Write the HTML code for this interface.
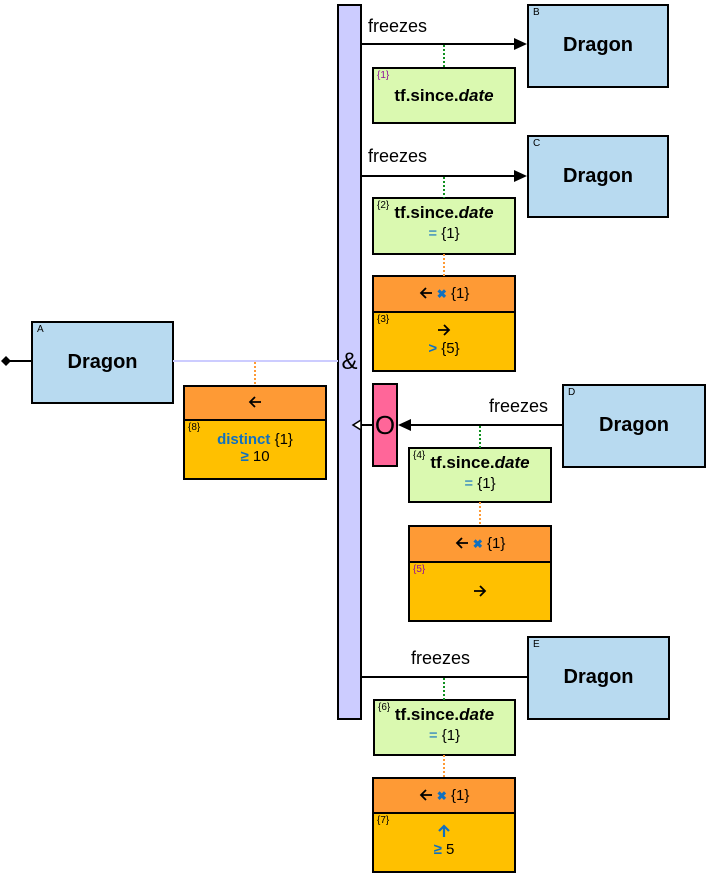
<!DOCTYPE html>
<html><head><meta charset="utf-8"><style>
body{margin:0;width:706px;height:875px;position:relative;background:#fff;overflow:hidden;font-family:"Liberation Sans",Arial,sans-serif}
.b{position:absolute;box-sizing:border-box;border:2px solid #000}
.ent{background:#b8daf0;text-align:center;font-weight:bold;font-size:20px}
.ent span.t{position:absolute;left:0;right:0;top:28px}
.tag{position:absolute;left:4px;top:1px;font-size:10px;font-weight:normal;color:#000}
.g{background:#daf9b0;text-align:center}
.g .m{font-weight:bold;font-size:17px;margin-top:4px}
.g .s{font-size:15px;margin-top:2px}
.o{background:#fe9a35;text-align:center;font-size:15px}
.y{background:#ffc000;text-align:center;font-size:15px}
.num{position:absolute;left:3px;top:1px;font-size:10px;color:#000}
.pur{color:#90109a}
.bl{color:#1070c0}
.ic{display:inline-block;vertical-align:-2px}
.fz{position:absolute;font-size:18px}
</style></head><body>
<div class="b" style="left:337px;top:4px;width:25px;height:716px;background:#ccccff"></div>
<div style="position:absolute;left:338px;top:348px;width:23px;text-align:center;font-size:24px">&amp;</div>
<svg width="706" height="875" style="position:absolute;left:0;top:0;z-index:1">
<line x1="173" y1="361" x2="338" y2="361" stroke="#ccccff" stroke-width="2"/>
<line x1="10" y1="361" x2="31" y2="361" stroke="#000" stroke-width="2"/>
<polygon points="1,361 6,356 11,361 6,366" fill="#000"/>
<line x1="255" y1="362" x2="255" y2="386" stroke="#fe9a35" stroke-width="2" stroke-dasharray="2,2"/>
<line x1="361" y1="44" x2="515" y2="44" stroke="#000" stroke-width="2"/>
<polygon points="527,44 514,38 514,50" fill="#000"/>
<line x1="444" y1="45" x2="444" y2="68" stroke="#109020" stroke-width="2" stroke-dasharray="2,2"/>
<line x1="361" y1="176" x2="515" y2="176" stroke="#000" stroke-width="2"/>
<polygon points="527,176 514,170 514,182" fill="#000"/>
<line x1="444" y1="177" x2="444" y2="198" stroke="#109020" stroke-width="2" stroke-dasharray="2,2"/>
<line x1="444" y1="254" x2="444" y2="276" stroke="#fe9a35" stroke-width="2" stroke-dasharray="2,2"/>
<line x1="410" y1="425" x2="563" y2="425" stroke="#000" stroke-width="2"/>
<polygon points="398,425 411,419 411,431" fill="#000"/>
<line x1="361" y1="425" x2="372" y2="425" stroke="#000" stroke-width="2"/>
<polygon points="353,425 361,420 361,430" fill="#fff" stroke="#000" stroke-width="1.5"/>
<line x1="480" y1="426" x2="480" y2="448" stroke="#109020" stroke-width="2" stroke-dasharray="2,2"/>
<line x1="480" y1="502" x2="480" y2="526" stroke="#fe9a35" stroke-width="2" stroke-dasharray="2,2"/>
<line x1="361" y1="677" x2="527" y2="677" stroke="#000" stroke-width="2"/>
<line x1="444" y1="678" x2="444" y2="700" stroke="#109020" stroke-width="2" stroke-dasharray="2,2"/>
<line x1="444" y1="755" x2="444" y2="778" stroke="#fe9a35" stroke-width="2" stroke-dasharray="2,2"/>
</svg>

<div class="b ent" style="left:31px;top:321px;width:143px;height:83px"><span class="tag">A</span><span class="t">Dragon</span></div>
<div class="b ent" style="left:527px;top:4px;width:142px;height:84px"><span class="tag">B</span><span class="t">Dragon</span></div>
<div class="b ent" style="left:527px;top:135px;width:142px;height:83px"><span class="tag">C</span><span class="t">Dragon</span></div>
<div class="b ent" style="left:562px;top:384px;width:144px;height:84px"><span class="tag">D</span><span class="t">Dragon</span></div>
<div class="b ent" style="left:527px;top:636px;width:143px;height:84px"><span class="tag">E</span><span class="t">Dragon</span></div>

<div class="fz" style="left:368px;top:16px">freezes</div>
<div class="fz" style="left:368px;top:146px">freezes</div>
<div class="fz" style="left:489px;top:396px">freezes</div>
<div class="fz" style="left:411px;top:648px">freezes</div>

<div class="b o" style="left:183px;top:385px;width:144px;height:36px;line-height:32px"><svg class="ic" width="14" height="14"><path d="M13 7H2M7 2L2 7L7 12" fill="none" stroke="#000" stroke-width="1.8"/></svg></div>
<div class="b y" style="left:183px;top:419px;width:144px;height:61px"><span class="num">{8}</span><div style="margin-top:10px"><b class="bl">distinct</b> {1}</div><div><b class="bl">≥</b> 10</div></div>

<div class="b g" style="left:372px;top:67px;width:144px;height:57px"><span class="num pur">{1}</span><div class="m" style="margin-top:17px">tf.since.<i>date</i></div></div>

<div class="b g" style="left:372px;top:197px;width:144px;height:58px"><span class="num">{2}</span><div class="m">tf.since.<i>date</i></div><div class="s"><span class="bl">=</span> {1}</div></div>
<div class="b o" style="left:372px;top:275px;width:144px;height:38px;line-height:34px"><svg class="ic" width="14" height="14"><path d="M13 7H2M7 2L2 7L7 12" fill="none" stroke="#000" stroke-width="1.8"/></svg> <b class="bl" style="font-size:12px">✖</b> {1}</div>
<div class="b y" style="left:372px;top:311px;width:144px;height:61px"><span class="num">{3}</span><div style="margin-top:9px;height:18px"><svg class="ic" width="14" height="14"><path d="M1 7H12M7 2L12 7L7 12" fill="none" stroke="#000" stroke-width="1.8"/></svg></div><div><b class="bl">&gt;</b> {5}</div></div>

<div class="b" style="left:372px;top:383px;width:26px;height:84px;background:#ff6699;text-align:center;font-size:26px;line-height:80px;z-index:2">O</div>

<div class="b g" style="left:408px;top:447px;width:144px;height:56px"><span class="num">{4}</span><div class="m">tf.since.<i>date</i></div><div class="s"><span class="bl">=</span> {1}</div></div>
<div class="b o" style="left:408px;top:525px;width:144px;height:38px;line-height:34px"><svg class="ic" width="14" height="14"><path d="M13 7H2M7 2L2 7L7 12" fill="none" stroke="#000" stroke-width="1.8"/></svg> <b class="bl" style="font-size:12px">✖</b> {1}</div>
<div class="b y" style="left:408px;top:561px;width:144px;height:61px"><span class="num pur">{5}</span><div style="margin-top:20px"><svg class="ic" width="14" height="14"><path d="M1 7H12M7 2L12 7L7 12" fill="none" stroke="#000" stroke-width="1.8"/></svg></div></div>

<div class="b g" style="left:373px;top:699px;width:143px;height:57px"><span class="num">{6}</span><div class="m">tf.since.<i>date</i></div><div class="s"><span class="bl">=</span> {1}</div></div>
<div class="b o" style="left:372px;top:777px;width:144px;height:37px;line-height:33px"><svg class="ic" width="14" height="14"><path d="M13 7H2M7 2L2 7L7 12" fill="none" stroke="#000" stroke-width="1.8"/></svg> <b class="bl" style="font-size:12px">✖</b> {1}</div>
<div class="b y" style="left:372px;top:812px;width:144px;height:61px"><span class="num">{7}</span><div style="margin-top:9px;height:18px"><svg class="ic" width="14" height="14"><path d="M7 13V2M2 7L7 2L12 7" fill="none" stroke="#1070c0" stroke-width="2.2"/></svg></div><div><b class="bl">≥</b> 5</div></div>
</body></html>
